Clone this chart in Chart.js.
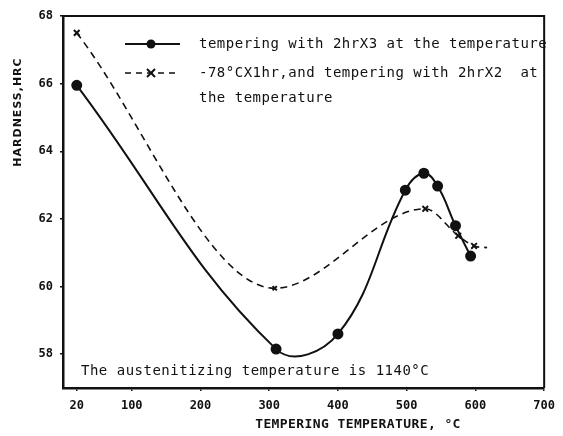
<!DOCTYPE html>
<html>
<head>
<meta charset="utf-8">
<script src="https://cdn.jsdelivr.net/npm/chart.js@4"></script>
<style>
  html, body { margin: 0; padding: 0; background: #fff; }
</style>
</head>
<body>
<canvas id="hardness" width="563" height="436"></canvas>
<script>
// values
const xTicks = [20, 100, 200, 300, 400, 500, 600, 700];
const yTicks = [58, 60, 62, 64, 66, 68];

const solidTemp = [20, 310, 400, 498, 525, 545, 571, 593];
const solidHrc  = [65.95, 58.15, 58.6, 62.85, 63.35, 62.97, 61.8, 60.9];

const dashTemp = [20, 308, 527, 575, 598, 617];
const dashHrc  = [67.5, 59.95, 62.3, 61.5, 61.2, 61.15];

const legendText = [
  'tempering with 2hrX3 at the temperature',
  '-78\u00B0CX1hr,and tempering with 2hrX2  at',
  'the temperature'
];
const noteText = 'The austenitizing temperature is 1140\u00B0C';
const xTitle = 'TEMPERING TEMPERATURE, \u00B0C';
const yTitle = 'HARDNESS,HRC';

const ink = '#111';
const mono = '"DejaVu Sans Mono", "Liberation Mono", monospace';

const toPoints = (xs, ys) => xs.map((x, i) => ({ x: x, y: ys[i] }));

const textPlugin = {
  id: 'textPlugin',
  afterDraw(chart) {
    const ctx = chart.ctx;
    const a = chart.chartArea;
    ctx.save();

    // box top + right
    ctx.strokeStyle = ink;
    ctx.lineWidth = 2;
    ctx.beginPath();
    ctx.moveTo(a.left, a.top);
    ctx.lineTo(a.right, a.top);
    ctx.lineTo(a.right, a.bottom);
    ctx.stroke();

    ctx.fillStyle = ink;
    ctx.textBaseline = 'middle';
    ctx.textAlign = 'left';
    ctx.font = '14px ' + mono;
    ctx.letterSpacing = '0.5px';
    ctx.fillText(legendText[0], 199, 44);
    ctx.fillText(legendText[1], 199, 73);
    ctx.fillText(legendText[2], 199, 98);
    ctx.fillText(noteText, 81, 371);

    // legend samples
    ctx.lineWidth = 2;
    ctx.beginPath();
    ctx.moveTo(125, 44);
    ctx.lineTo(180, 44);
    ctx.stroke();
    ctx.beginPath();
    ctx.arc(151, 44, 4.5, 0, Math.PI * 2);
    ctx.fill();

    ctx.lineWidth = 1.6;
    ctx.setLineDash([6, 5]);
    ctx.beginPath();
    ctx.moveTo(125, 73);
    ctx.lineTo(180, 73);
    ctx.stroke();
    ctx.setLineDash([]);
    ctx.lineWidth = 2;
    ctx.beginPath();
    ctx.moveTo(147, 69); ctx.lineTo(155, 77);
    ctx.moveTo(155, 69); ctx.lineTo(147, 77);
    ctx.stroke();

    // axis titles
    ctx.textAlign = 'center';
    ctx.font = 'bold 13px ' + mono;
    ctx.letterSpacing = '0.4px';
    ctx.fillText(xTitle, 358, 425);

    ctx.translate(18, 112);
    ctx.rotate(-Math.PI / 2);
    ctx.font = 'bold 11px "DejaVu Sans", sans-serif';
    ctx.letterSpacing = '1px';
    ctx.fillText(yTitle, 0, 0);

    ctx.restore();
  }
};

new Chart(document.getElementById('hardness'), {
  type: 'line',
  data: {
    datasets: [
      {
        label: 'solid',
        data: toPoints(solidTemp, solidHrc),
        borderColor: ink,
        backgroundColor: ink,
        borderWidth: 2,
        tension: 0.4,
        pointRadius: 4.5,
        pointStyle: 'circle',
        fill: false
      },
      {
        label: 'dashed',
        data: toPoints(dashTemp, dashHrc),
        borderColor: ink,
        backgroundColor: ink,
        borderWidth: 1.6,
        borderDash: [7, 5],
        cubicInterpolationMode: 'monotone',
        pointStyle: 'crossRot',
        pointRadius: [4, 3, 4, 4, 4, 0],
        pointBorderWidth: 2,
        fill: false
      }
    ]
  },
  options: {
    responsive: false,
    animation: false,
    devicePixelRatio: 1,
    layout: { padding: { top: 16, right: 9, left: 0, bottom: 0 } },
    plugins: {
      legend: { display: false },
      tooltip: { enabled: false }
    },
    scales: {
      x: {
        type: 'linear',
        min: 0,
        max: 700,
        afterBuildTicks: (s) => { s.ticks = xTicks.map(v => ({ value: v })); },
        afterFit: (s) => { s.height = 48; },
        grid: { drawOnChartArea: false, tickLength: 3, color: ink, lineWidth: 1.5 },
        border: { color: ink, width: 2.5 },
        ticks: {
          color: ink,
          padding: 8,
          maxRotation: 0,
          autoSkip: false,
          font: { family: mono, size: 12, weight: 'bold' }
        }
      },
      y: {
        min: 57,
        max: 68,
        afterBuildTicks: (s) => { s.ticks = yTicks.map(v => ({ value: v })); },
        afterFit: (s) => { s.width = 63; },
        grid: { drawOnChartArea: false, tickLength: 3, color: ink, lineWidth: 1.5 },
        border: { color: ink, width: 2.5 },
        ticks: {
          color: ink,
          padding: 7,
          font: { family: mono, size: 12, weight: 'bold' }
        }
      }
    }
  },
  plugins: [textPlugin]
});
</script>
</body>
</html>
